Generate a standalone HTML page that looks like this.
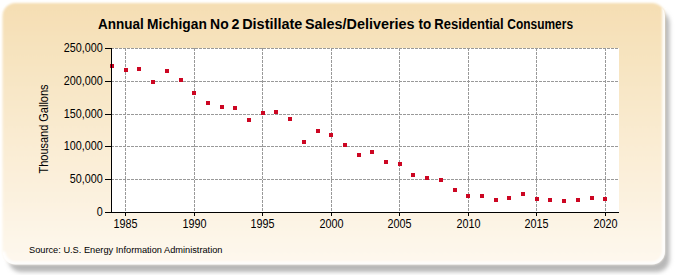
<!DOCTYPE html>
<html><head><meta charset="utf-8"><style>
html,body{margin:0;padding:0;background:#fff;width:675px;height:275px;overflow:hidden}
svg{display:block}
text{font-family:"Liberation Sans",sans-serif;fill:#000}
</style></head><body>
<svg width="675" height="275" viewBox="0 0 675 275">
<defs>
<linearGradient id="bg" x1="0" y1="0" x2="0" y2="1">
<stop offset="0" stop-color="#F5DEB3"/>
<stop offset="1" stop-color="#FEF8EE"/>
</linearGradient>
<filter id="sh" x="-10%" y="-10%" width="120%" height="130%"><feGaussianBlur stdDeviation="2.2"/></filter>
<clipPath id="bx"><rect x="2.5" y="3" width="662.5" height="261.5" rx="13"/></clipPath>
<filter id="bb" x="-2%" y="-2%" width="104%" height="104%"><feGaussianBlur stdDeviation="0.8"/></filter>
<filter id="gl" x="-10%" y="-10%" width="120%" height="130%"><feGaussianBlur stdDeviation="1.2"/></filter>
</defs>
<rect x="8.5" y="10.5" width="661" height="261.5" rx="13" fill="#B8B8B8" filter="url(#sh)"/>

<rect x="2.5" y="3" width="662.5" height="261.5" rx="13" fill="url(#bg)" filter="url(#bb)"/>
<path d="M665 8 L665 251.5 A13 13 0 0 1 652 264.5 L15.5 264.5 A13 13 0 0 1 2.5 251.5" fill="none" stroke="#fff" stroke-width="6" filter="url(#gl)" opacity="0.9" clip-path="url(#bx)"/>
<rect x="111" y="48" width="508" height="164" fill="#fff"/>
<g stroke="#999" stroke-width="1" stroke-dasharray="3,1"><line x1="125.5" y1="48" x2="125.5" y2="212"/><line x1="194.5" y1="48" x2="194.5" y2="212"/><line x1="262.5" y1="48" x2="262.5" y2="212"/><line x1="331.5" y1="48" x2="331.5" y2="212"/><line x1="399.5" y1="48" x2="399.5" y2="212"/><line x1="468.5" y1="48" x2="468.5" y2="212"/><line x1="536.5" y1="48" x2="536.5" y2="212"/><line x1="605.5" y1="48" x2="605.5" y2="212"/><line x1="111" y1="179.5" x2="619" y2="179.5"/><line x1="111" y1="146.5" x2="619" y2="146.5"/><line x1="111" y1="114.5" x2="619" y2="114.5"/><line x1="111" y1="81.5" x2="619" y2="81.5"/><line x1="111" y1="48.5" x2="619" y2="48.5"/></g>
<g fill="#CC0622"><rect x="110" y="64" width="4" height="4"/><rect x="124" y="68" width="4" height="4"/><rect x="137" y="67" width="4" height="4"/><rect x="151" y="80" width="4" height="4"/><rect x="165" y="69" width="4" height="4"/><rect x="179" y="78" width="4" height="4"/><rect x="192" y="91" width="4" height="4"/><rect x="206" y="101" width="4" height="4"/><rect x="220" y="105" width="4" height="4"/><rect x="233" y="106" width="4" height="4"/><rect x="247" y="118" width="4" height="4"/><rect x="261" y="111" width="4" height="4"/><rect x="274" y="110" width="4" height="4"/><rect x="288" y="117" width="4" height="4"/><rect x="302" y="140" width="4" height="4"/><rect x="316" y="129" width="4" height="4"/><rect x="329" y="133" width="4" height="4"/><rect x="343" y="143" width="4" height="4"/><rect x="357" y="153" width="4" height="4"/><rect x="370" y="150" width="4" height="4"/><rect x="384" y="160" width="4" height="4"/><rect x="398" y="162" width="4" height="4"/><rect x="411" y="173" width="4" height="4"/><rect x="425" y="176" width="4" height="4"/><rect x="439" y="178" width="4" height="4"/><rect x="453" y="188" width="4" height="4"/><rect x="466" y="194" width="4" height="4"/><rect x="480" y="194" width="4" height="4"/><rect x="494" y="198" width="4" height="4"/><rect x="507" y="196" width="4" height="4"/><rect x="521" y="192" width="4" height="4"/><rect x="535" y="197" width="4" height="4"/><rect x="548" y="198" width="4" height="4"/><rect x="562" y="199" width="4" height="4"/><rect x="576" y="198" width="4" height="4"/><rect x="590" y="196" width="4" height="4"/><rect x="603" y="197" width="4" height="4"/></g>
<g stroke="#000" stroke-width="1"><line x1="105" y1="212.5" x2="111" y2="212.5"/><line x1="105" y1="179.5" x2="111" y2="179.5"/><line x1="105" y1="146.5" x2="111" y2="146.5"/><line x1="105" y1="114.5" x2="111" y2="114.5"/><line x1="105" y1="81.5" x2="111" y2="81.5"/><line x1="105" y1="48.5" x2="111" y2="48.5"/><line x1="125.5" y1="213" x2="125.5" y2="216"/><line x1="194.5" y1="213" x2="194.5" y2="216"/><line x1="262.5" y1="213" x2="262.5" y2="216"/><line x1="331.5" y1="213" x2="331.5" y2="216"/><line x1="399.5" y1="213" x2="399.5" y2="216"/><line x1="468.5" y1="213" x2="468.5" y2="216"/><line x1="536.5" y1="213" x2="536.5" y2="216"/><line x1="605.5" y1="213" x2="605.5" y2="216"/>
<line x1="111.5" y1="48" x2="111.5" y2="213"/><line x1="111" y1="212.5" x2="619" y2="212.5"/></g>
<g font-size="12"><text transform="translate(102.8,216) scale(0.9,1)" text-anchor="end">0</text><text transform="translate(102.8,183) scale(0.9,1)" text-anchor="end">50,000</text><text transform="translate(102.8,150) scale(0.9,1)" text-anchor="end">100,000</text><text transform="translate(102.8,118) scale(0.9,1)" text-anchor="end">150,000</text><text transform="translate(102.8,85) scale(0.9,1)" text-anchor="end">200,000</text><text transform="translate(102.8,52) scale(0.9,1)" text-anchor="end">250,000</text></g>
<g font-size="12"><text transform="translate(125.5,228) scale(0.9,1)" text-anchor="middle">1985</text><text transform="translate(194.5,228) scale(0.9,1)" text-anchor="middle">1990</text><text transform="translate(262.5,228) scale(0.9,1)" text-anchor="middle">1995</text><text transform="translate(331.5,228) scale(0.9,1)" text-anchor="middle">2000</text><text transform="translate(399.5,228) scale(0.9,1)" text-anchor="middle">2005</text><text transform="translate(468.5,228) scale(0.9,1)" text-anchor="middle">2010</text><text transform="translate(536.5,228) scale(0.9,1)" text-anchor="middle">2015</text><text transform="translate(605.5,228) scale(0.9,1)" text-anchor="middle">2020</text></g>
<g font-size="14" font-weight="bold"><text x="98.1" y="29" textLength="45.74" lengthAdjust="spacingAndGlyphs" fill="#000">Annual</text><text x="147.12" y="29" textLength="59.75" lengthAdjust="spacingAndGlyphs" fill="#000">Michigan</text><text x="210.11" y="29" textLength="18.56" lengthAdjust="spacingAndGlyphs" fill="#000">No</text><text x="231.6" y="29" textLength="7.91" lengthAdjust="spacingAndGlyphs" fill="#000">2</text><text x="242.17" y="29" textLength="60.2" lengthAdjust="spacingAndGlyphs" fill="#000">Distillate</text><text x="304.97" y="29" textLength="109.59" lengthAdjust="spacingAndGlyphs" fill="#000">Sales/Deliveries</text><text x="418.6" y="29" textLength="12.71" lengthAdjust="spacingAndGlyphs" fill="#000">to</text><text x="434.27" y="29" textLength="69.48" lengthAdjust="spacingAndGlyphs" fill="#000">Residential</text><text x="507.35" y="29" textLength="65.68" lengthAdjust="spacingAndGlyphs" fill="#000">Consumers</text></g>
<text transform="translate(48,129) rotate(-90)" text-anchor="middle" font-size="12" textLength="89" lengthAdjust="spacingAndGlyphs">Thousand Gallons</text>
<text x="29" y="253" font-size="9.6" textLength="193.5" lengthAdjust="spacingAndGlyphs">Source: U.S. Energy Information Administration</text>
</svg>
</body></html>
